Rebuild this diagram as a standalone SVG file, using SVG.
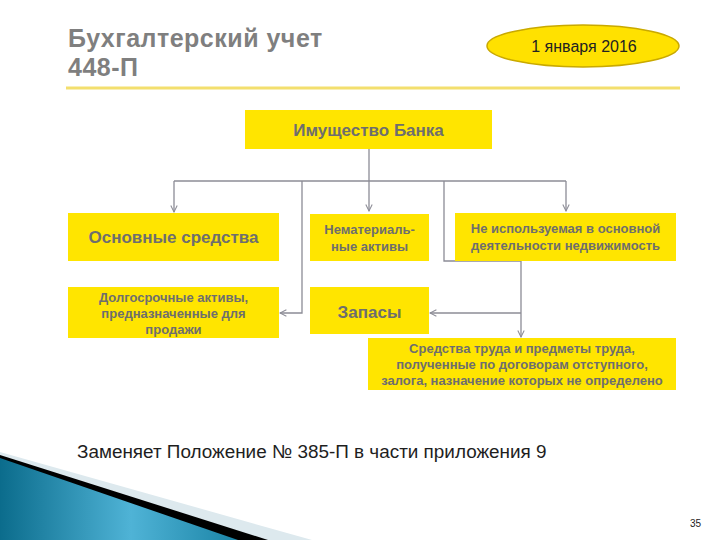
<svg xmlns="http://www.w3.org/2000/svg" width="720" height="540" viewBox="0 0 720 540">
<defs>
<style>
.box{fill:#ffe500;}
.t{font-family:"Liberation Sans",Arial,sans-serif;font-weight:bold;fill:#6e6e6e;text-anchor:middle;}
.c{fill:none;stroke:#8c8c96;stroke-width:1.3;}
</style>
<marker id="ah" viewBox="0 0 10 10" refX="9" refY="5" markerWidth="8" markerHeight="8" orient="auto" markerUnits="userSpaceOnUse">
<path d="M1,1 L9,5 L1,9" fill="none" stroke="#8c8c96" stroke-width="1.3"/>
</marker>
<linearGradient id="tg" x1="0" y1="0" x2="1" y2="0">
<stop offset="0" stop-color="#0b6c8c"/>
<stop offset="0.55" stop-color="#4fb3d6"/>
<stop offset="1" stop-color="#1b84a6"/>
</linearGradient>
</defs>
<rect width="720" height="540" fill="#ffffff"/>
<g id="header">
<text x="68" y="47" font-family="'Liberation Sans',Arial,sans-serif" font-weight="bold" font-size="25" letter-spacing="0.5" fill="#7f7f7f">Бухгалтерский учет</text>
<text x="68" y="76" font-family="'Liberation Sans',Arial,sans-serif" font-weight="bold" font-size="25" letter-spacing="0.5" fill="#7f7f7f">448-П</text>
<line x1="66" y1="88" x2="680" y2="88" stroke="#f3df6e" stroke-width="3"/>
</g>
<g id="date">
<ellipse cx="583" cy="46" rx="96" ry="21" fill="#ffe100" stroke="#c9a900" stroke-width="1.5"/>
<text x="584" y="52" font-family="'Liberation Sans',Arial,sans-serif" font-size="16" fill="#222" text-anchor="middle">1 января 2016</text>
</g>
<g id="connectors">
<line class="c" x1="369" y1="149" x2="369" y2="211" marker-end="url(#ah)"/>
<line class="c" x1="174" y1="181" x2="566" y2="181"/>
<line class="c" x1="174" y1="181" x2="174" y2="212" marker-end="url(#ah)"/>
<line class="c" x1="566" y1="181" x2="566" y2="211" marker-end="url(#ah)"/>
<polyline class="c" points="302,181 302,313 280,313" marker-end="url(#ah)"/>
<polyline class="c" points="444,181 444,261 521,261 521,337" marker-end="url(#ah)"/>
<line class="c" x1="521" y1="313" x2="430" y2="313" marker-end="url(#ah)"/>
</g>
<g id="n-root"><rect class="box" x="245" y="110" width="247" height="39"/><text class="t" x="368.5" y="136" font-size="17">Имущество Банка</text></g>
<g id="n-os"><rect class="box" x="68" y="213" width="211" height="48"/><text class="t" x="173.5" y="243" font-size="17">Основные средства</text></g>
<g id="n-nma"><rect class="box" x="310" y="214" width="119" height="47"/><text class="t" x="369.5" y="234" font-size="13">Нематериаль-</text><text class="t" x="369.5" y="251" font-size="13">ные активы</text></g>
<g id="n-ned"><rect class="box" x="455" y="213" width="221" height="48"/><text class="t" x="565.5" y="233" font-size="13">Не используемая в основной</text><text class="t" x="565.5" y="250" font-size="13">деятельности недвижимость</text></g>
<g id="n-dolg"><rect class="box" x="68" y="287" width="211" height="51"/><text class="t" x="173.5" y="302" font-size="13">Долгосрочные активы,</text><text class="t" x="173.5" y="318" font-size="13">предназначенные для</text><text class="t" x="173.5" y="334" font-size="13">продажи</text></g>
<g id="n-zap"><rect class="box" x="310" y="287" width="119" height="47"/><text class="t" x="369.5" y="318" font-size="17">Запасы</text></g>
<g id="n-sr"><rect class="box" x="368" y="338" width="308" height="52"/><text class="t" x="522" y="353" font-size="13">Средства труда и предметы труда,</text><text class="t" x="522" y="369" font-size="13">полученные по договорам отступного,</text><text class="t" x="522" y="385" font-size="13">залога, назначение которых не определено</text></g>
<g id="footer">
<text x="77" y="458" font-family="'Liberation Sans',Arial,sans-serif" font-size="18.9" fill="#1e1e1e">Заменяет Положение № 385-П в части приложения 9</text>
<polygon points="0,452 312,540 0,540" fill="#dde9ee"/>
<polygon points="0,455 268,540 0,540" fill="#000000"/>
<polygon points="0,458 238,540 0,540" fill="url(#tg)"/>
<text x="690" y="527" font-family="'Liberation Sans',Arial,sans-serif" font-size="10" fill="#222">35</text>
</g>
</svg>
